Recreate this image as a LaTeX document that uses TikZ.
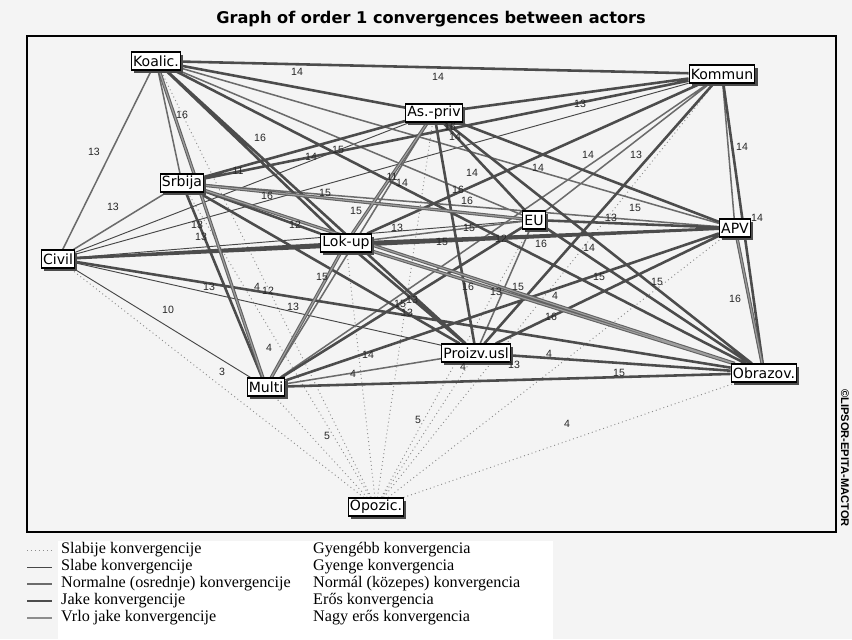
\documentclass[tikz,border=0pt]{standalone}
\usepackage{fontspec}
\setmainfont{Liberation Serif}
\newfontfamily\boxfont{DejaVu Sans}
\newfontfamily\numfont{Liberation Sans}
\usetikzlibrary{shadows,backgrounds}

\definecolor{paper}{HTML}{F4F4F4}

\tikzset{
  actor/.style={draw=black, line width=0.9pt, fill=white, inner xsep=1.5pt, inner ysep=1pt,
    minimum height=0.54cm, font=\boxfont\fontsize{12}{13}\selectfont,
    drop shadow={shadow xshift=2.2pt, shadow yshift=-2.2pt, fill=black!70, opacity=1}},
  lbl/.style={font=\numfont\fontsize{9}{10}\selectfont, inner sep=0pt, text=black!85},
  legtext/.style={anchor=west, inner sep=0pt, font=\fontsize{13.8}{15}\selectfont},
  slabije/.style={draw=black!45, line width=0.8pt, dash pattern=on 0.8pt off 2.6pt},
  slabe/.style={draw=black!72, line width=0.8pt},
  normalne/.style={draw=black!58, line width=1.3pt},
  jake/.style={draw=black!70, line width=2.2pt},
  vrlojake/.style={draw=black!62, double=black!38, line width=0.9pt, double distance=1pt}
}

\begin{document}
\begin{tikzpicture}[x=0.3mm,y=-0.3mm]
  \useasboundingbox (0,0) rectangle (852,639);

  % actors
  \node[actor] (koalic)  at (156,61)  {Koalic.};
  \node[actor] (kommun)  at (722,74)  {Kommun};
  \node[actor] (aspriv)  at (434,113) {As.-priv};
  \node[actor] (srbija)  at (182,183) {Srbija};
  \node[actor] (eu)      at (534,220) {EU};
  \node[actor] (apv)     at (735,228) {APV};
  \node[actor] (lokup)   at (346,243) {Lok-up};
  \node[actor] (civil)   at (58,259)  {Civil};
  \node[actor] (proizv)  at (476,353) {Proizv.usl};
  \node[actor] (obrazov) at (764,373) {Obrazov.};
  \node[actor] (multi)   at (266,387) {Multi};
  \node[actor] (opozic)  at (376,507) {Opozic.};

  \begin{pgfonlayer}{background}
    \fill[paper] (0,0) rectangle (852,639);
    \draw[line width=0.9pt] (27,36) rectangle (836,532);

    % convergences
    \draw[slabije] (opozic) -- (civil) (opozic) -- (multi) (opozic) -- (koalic) (opozic) -- (srbija)
      (opozic) -- (lokup) (opozic) -- (aspriv) (opozic) -- (proizv) (opozic) -- (eu)
      (opozic) -- (apv) (opozic) -- (kommun) (opozic) -- (obrazov);
    \draw[slabe] (kommun) -- (civil) (aspriv) -- (civil) (civil) -- (eu) (civil) -- (proizv) (civil) -- (multi);
    \draw[normalne] (koalic) -- (apv) (koalic) -- (eu) (koalic) -- (srbija) (koalic) -- (civil)
      (kommun) -- (eu) (kommun) -- (multi) (kommun) -- (apv) (aspriv) -- (multi)
      (srbija) -- (apv) (srbija) -- (civil) (lokup) -- (eu) (eu) -- (proizv) (proizv) -- (multi);
    \draw[jake] (koalic) -- (kommun) (koalic) -- (aspriv) (koalic) -- (obrazov) (koalic) -- (proizv)
      (koalic) -- (lokup) (kommun) -- (aspriv) (kommun) -- (srbija) (kommun) -- (lokup)
      (kommun) -- (proizv) (kommun) -- (obrazov) (aspriv) -- (srbija) (aspriv) -- (eu)
      (aspriv) -- (apv) (aspriv) -- (obrazov) (aspriv) -- (proizv) (srbija) -- (lokup)
      (srbija) -- (proizv) (srbija) -- (multi) (lokup) -- (apv) (lokup) -- (civil)
      (lokup) -- (proizv) (civil) -- (apv) (civil) -- (obrazov) (eu) -- (apv)
      (eu) -- (obrazov) (eu) -- (multi) (apv) -- (proizv) (apv) -- (multi)
      (proizv) -- (obrazov) (obrazov) -- (multi);
    \draw[vrlojake] (koalic) -- (multi) (aspriv) -- (lokup) (srbija) -- (eu) (srbija) -- (obrazov)
      (lokup) -- (obrazov) (lokup) -- (multi) (apv) -- (obrazov);
  \end{pgfonlayer}

  % values
  \node[lbl] (v1) at (297,72) {14};  \node[lbl] (v2) at (438,77) {14};  \node[lbl] (v3) at (182,115) {16};
  \node[lbl] (v4) at (260,138) {16}; \node[lbl] (v5) at (94,152) {13};  \node[lbl] (v6) at (338,150) {15};
  \node[lbl] (v7) at (311,157) {14}; \node[lbl] (v8) at (238,171) {11}; \node[lbl] (v9) at (392,177) {11};
  \node[lbl] (v10) at (402,183) {14}; \node[lbl] (v11) at (267,196) {16}; \node[lbl] (v12) at (325,193) {15};
  \node[lbl] (v13) at (113,207) {13}; \node[lbl] (v14) at (356,211) {15}; \node[lbl] (v15) at (197,225) {13};
  \node[lbl] (v16) at (295,225) {12}; \node[lbl] (v17) at (397,228) {13}; \node[lbl] (v18) at (201,237) {13};
  \node[lbl] (v19) at (580,104) {13}; \node[lbl] (v20) at (450,127) {16}; \node[lbl] (v21) at (455,137) {14};
  \node[lbl] (v22) at (588,155) {14}; \node[lbl] (v23) at (636,155) {13}; \node[lbl] (v24) at (742,147) {14};
  \node[lbl] (v25) at (472,173) {14}; \node[lbl] (v26) at (538,168) {14}; \node[lbl] (v27) at (458,190) {16};
  \node[lbl] (v28) at (467,201) {16}; \node[lbl] (v29) at (635,208) {15}; \node[lbl] (v30) at (611,218) {13};
  \node[lbl] (v31) at (757,218) {14}; \node[lbl] (v32) at (469,228) {15}; \node[lbl] (v33) at (442,242) {15};
  \node[lbl] (v34) at (501,239) {12}; \node[lbl] (v35) at (541,244) {16}; \node[lbl] (v36) at (589,248) {14};
  \node[lbl] (v37) at (322,277) {15}; \node[lbl] (v38) at (209,287) {13}; \node[lbl] (v39) at (257,287) {4};
  \node[lbl] (v40) at (268,291) {12}; \node[lbl] (v41) at (168,310) {10}; \node[lbl] (v42) at (293,307) {13};
  \node[lbl] (v43) at (400,304) {15}; \node[lbl] (v44) at (412,300) {13}; \node[lbl] (v45) at (407,313) {13};
  \node[lbl] (v46) at (269,348) {4};  \node[lbl] (v47) at (368,355) {14}; \node[lbl] (v48) at (222,372) {3};
  \node[lbl] (v49) at (353,374) {4};  \node[lbl] (v50) at (418,420) {5};  \node[lbl] (v51) at (327,436) {5};
  \node[lbl] (v52) at (468,287) {16}; \node[lbl] (v53) at (496,292) {13}; \node[lbl] (v54) at (518,287) {15};
  \node[lbl] (v55) at (555,296) {4};  \node[lbl] (v56) at (599,277) {15}; \node[lbl] (v57) at (657,282) {15};
  \node[lbl] (v58) at (735,299) {16}; \node[lbl] (v59) at (551,317) {16}; \node[lbl] (v60) at (549,354) {4};
  \node[lbl] (v61) at (463,367) {4};  \node[lbl] (v62) at (514,365) {13}; \node[lbl] (v63) at (619,373) {15};
  \node[lbl] (v64) at (567,424) {4};

  % title and mark
  \node[font=\boxfont\bfseries\fontsize{13.8}{15}\selectfont] (title) at (431,19)
    {Graph of order 1 convergences between actors};
  \node[rotate=-90, font=\numfont\bfseries\fontsize{9.5}{10}\selectfont] (mark) at (845,458)
    {©LIPSOR-EPITA-MACTOR};

  % legend
  \fill[white] (58,541) rectangle (553,639);
  \node[legtext] (s1) at (61,550) {Slabije konvergencije};
  \node[legtext] (s2) at (61,567) {Slabe konvergencije};
  \node[legtext] (s3) at (61,584) {Normalne (osrednje) konvergencije};
  \node[legtext] (s4) at (61,601) {Jake konvergencije};
  \node[legtext] (s5) at (61,618) {Vrlo jake konvergencije};
  \node[legtext] (h1) at (313,550) {Gyengébb konvergencia};
  \node[legtext] (h2) at (313,567) {Gyenge konvergencia};
  \node[legtext] (h3) at (313,584) {Normál (közepes) konvergencia};
  \node[legtext] (h4) at (313,601) {Erős konvergencia};
  \node[legtext] (h5) at (313,618) {Nagy erős konvergencia};
  \draw[slabije] (27,550) -- (52,550);
  \draw[slabe] (27,567) -- (52,567);
  \draw[normalne] (27,584) -- (52,584);
  \draw[jake] (27,601) -- (52,601);
  \draw[draw=black!45, line width=2.4pt] (27,618) -- (52,618);
\end{tikzpicture}
\end{document}
